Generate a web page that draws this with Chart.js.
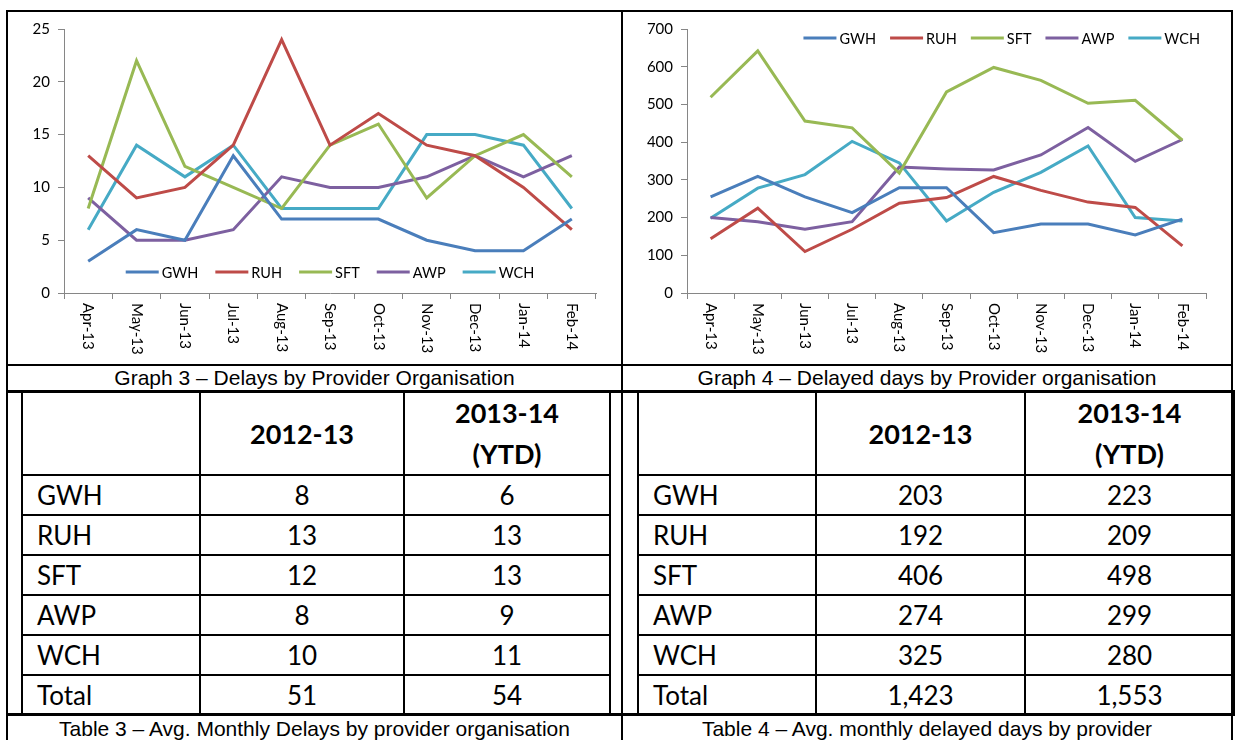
<!DOCTYPE html>
<html>
<head>
<meta charset="utf-8">
<script src="https://cdn.jsdelivr.net/npm/chart.js@4.4.0/dist/chart.umd.min.js"></script>
<style>
  body { margin:0; background:#fff; width:1235px; height:740px; overflow:hidden; position:relative; }
  .ln { position:absolute; background:#000; }
  .box { position:absolute; }
  .cap { position:absolute; font-family:"Liberation Sans", Arial, sans-serif; font-size:21px; text-align:center; color:#000; line-height:26px; white-space:nowrap; }
  table.t { position:absolute; border-collapse:collapse; table-layout:fixed; font-family:Lato, sans-serif; font-size:26px; color:#000; }
  table.t td { border:2px solid #000; padding:0; text-align:center; }
  table.t td.lbl { text-align:left; padding-left:14px; }
  table.t tr.hd td { font-weight:bold; font-size:27px; line-height:41px; height:78px; }
  table.t tr.rw td { height:38px; line-height:38px; }
</style>
</head>
<body>
<div class="ln" style="left:6px;top:10px;width:1227px;height:2px"></div>
<div class="ln" style="left:6px;top:10px;width:2px;height:730px"></div>
<div class="ln" style="left:621px;top:10px;width:2px;height:730px"></div>
<div class="ln" style="left:1231px;top:10px;width:2px;height:730px"></div>
<div class="ln" style="left:6px;top:364px;width:1227px;height:2px"></div>
<div class="ln" style="left:6px;top:390px;width:1227px;height:3px"></div>
<div class="ln" style="left:6px;top:713px;width:1227px;height:3px"></div>

<div class="box" style="left:8px;top:12px;width:613px;height:352px"><canvas id="g3"></canvas></div>
<div class="box" style="left:623px;top:12px;width:608px;height:352px"><canvas id="g4"></canvas></div>

<div class="cap" style="left:8px;top:365px;width:613px">Graph 3 – Delays by Provider Organisation</div>
<div class="cap" style="left:623px;top:365px;width:608px">Graph 4 – Delayed days by Provider organisation</div>

<table class="t" id="t3" style="left:21px;top:390px;width:588px"></table>
<table class="t" id="t4" style="left:637px;top:390px;width:596px"></table>

<div class="cap" style="left:8px;top:716px;width:613px">Table 3 – Avg. Monthly Delays by provider organisation</div>
<div class="cap" style="left:623px;top:716px;width:608px">Table 4 – Avg. monthly delayed days by provider</div>

<script>
const months = ['Apr-13', 'May-13', 'Jun-13', 'Jul-13', 'Aug-13', 'Sep-13', 'Oct-13', 'Nov-13', 'Dec-13', 'Jan-14', 'Feb-14'];
const providers = ['GWH', 'RUH', 'SFT', 'AWP', 'WCH'];
const colors = ['#4A7EBB', '#BE4B48', '#98B954', '#7D60A0', '#46AAC5'];

// Graph 3 - delays
const gwhDelays = [3, 6, 5, 13, 7, 7, 7, 5, 4, 4, 7];
const ruhDelays = [13, 9, 10, 14, 24, 14, 17, 14, 13, 10, 6];
const sftDelays = [8, 22, 12, 10, 8, 14, 16, 9, 13, 15, 11];
const awpDelays = [9, 5, 5, 6, 11, 10, 10, 11, 13, 11, 13];
const wchDelays = [6, 14, 11, 14, 8, 8, 8, 15, 15, 14, 8];

// Graph 4 - delayed days
const gwhDays = [255, 309, 255, 213, 279, 279, 160, 183, 183, 154, 196];
const ruhDays = [144, 225, 110, 169, 238, 253, 309, 272, 241, 227, 125];
const sftDays = [519, 642, 456, 438, 318, 533, 598, 564, 503, 511, 405];
const awpDays = [200, 189, 169, 189, 334, 329, 326, 366, 439, 349, 407];
const wchDays = [198, 278, 314, 402, 345, 191, 267, 320, 390, 200, 191];

// tables
const delays1213 = ['8', '13', '12', '8', '10'];
const delays1314 = ['6', '13', '13', '9', '11'];
const delaysTotal = ['51', '54'];
const days1213 = ['203', '192', '406', '274', '325'];
const days1314 = ['223', '209', '498', '299', '280'];
const daysTotal = ['1,423', '1,553'];

const axisColor = '#868686';
const tickFont = {family: 'Lato', size: 15};

const insideLegend = {
    id: 'insideLegend',
    afterDatasetsDraw(chart, args, opts) {
        const ctx = chart.ctx, area = chart.chartArea;
        ctx.save();
        ctx.font = '14.5px Lato';
        const sw = 33, gap = 3, itemGap = opts.itemGap;
        const items = chart.data.datasets.map(d => ({text: d.label, color: d.borderColor, w: sw + gap + ctx.measureText(d.label).width}));
        const total = items.reduce((a, it) => a + it.w, 0) + itemGap * (items.length - 1);
        let x = opts.align === 'right' ? area.right - opts.inset - total : (area.left + area.right) / 2 - total / 2;
        const y = opts.fromBottom != null ? area.bottom - opts.fromBottom : area.top + opts.fromTop;
        items.forEach(it => {
            ctx.strokeStyle = it.color;
            ctx.lineWidth = 3;
            ctx.beginPath();
            ctx.moveTo(x, y);
            ctx.lineTo(x + sw, y);
            ctx.stroke();
            ctx.fillStyle = '#000';
            ctx.textBaseline = 'middle';
            ctx.textAlign = 'left';
            ctx.fillText(it.text, x + sw + gap, y + 1);
            x += it.w + itemGap;
        });
        ctx.restore();
    }
};

// x labels rotated clockwise (read top to bottom)
const downLabels = {
    id: 'downLabels',
    afterDraw(chart) {
        const sc = chart.scales.x, ctx = chart.ctx;
        ctx.save();
        ctx.font = '15px Lato';
        ctx.fillStyle = '#000';
        ctx.textAlign = 'left';
        ctx.textBaseline = 'middle';
        sc.ticks.forEach((t, i) => {
            ctx.save();
            ctx.translate(sc.getPixelForTick(i), sc.top + 10);
            ctx.rotate(Math.PI / 2);
            ctx.fillText(chart.data.labels[i], 0, 0);
            ctx.restore();
        });
        ctx.restore();
    }
};

function createChart(id, series, yMax, yStep, yWidth, legendOpts) {
    const ctx = document.getElementById(id).getContext('2d');
    return new Chart(ctx, {
        type: 'line',
        data: {
            labels: months,
            datasets: series.map((s, i) => ({
                label: providers[i],
                data: s,
                borderColor: colors[i],
                backgroundColor: colors[i],
                borderWidth: 3,
                pointRadius: 0,
                tension: 0,
                fill: false
            }))
        },
        options: {
            responsive: true,
            maintainAspectRatio: false,
            animation: false,
            layout: {padding: {top: 14, right: 25, left: 0, bottom: 0}},
            plugins: {legend: {display: false}, tooltip: {enabled: false}, insideLegend: legendOpts},
            scales: {
                x: {
                    offset: true,
                    grid: {offset: true, drawOnChartArea: false, drawTicks: true, tickLength: 6, color: axisColor},
                    border: {color: axisColor},
                    ticks: {color: 'rgba(0,0,0,0)', minRotation: 90, maxRotation: 90, autoSkip: false, font: tickFont},
                    afterFit: s => { s.height = 71; }
                },
                y: {
                    min: 0,
                    max: yMax,
                    ticks: {stepSize: yStep, padding: 8, color: '#000', font: tickFont},
                    grid: {drawOnChartArea: false, tickLength: 6, color: axisColor},
                    border: {color: axisColor},
                    afterFit: s => { s.width = yWidth; }
                }
            }
        },
        plugins: [insideLegend, downLabels]
    });
}

createChart('g3', [gwhDelays, ruhDelays, sftDelays, awpDelays, wchDelays], 25, 5, 56, {fromBottom: 21, itemGap: 17});
createChart('g4', [gwhDays, ruhDays, sftDays, awpDays, wchDays], 700, 100, 64, {fromTop: 9, align: 'right', inset: 6, itemGap: 14});

function buildTable(id, colA, colB, totals, widths) {
    const t = document.getElementById(id);
    let html = '<colgroup>' + widths.map(w => '<col style="width:' + w + 'px">').join('') + '</colgroup>';
    html += '<tr class="hd"><td></td><td>2012-13</td><td>2013-14<br>(YTD)</td></tr>';
    providers.forEach((p, i) => {
        html += '<tr class="rw"><td class="lbl">' + p + '</td><td>' + colA[i] + '</td><td>' + colB[i] + '</td></tr>';
    });
    html += '<tr class="rw"><td class="lbl">Total</td><td>' + totals[0] + '</td><td>' + totals[1] + '</td></tr>';
    t.innerHTML = html;
}
buildTable('t3', delays1213, delays1314, delaysTotal, [178, 204, 206]);
buildTable('t4', days1213, days1314, daysTotal, [178, 209, 209]);
</script>
</body>
</html>
